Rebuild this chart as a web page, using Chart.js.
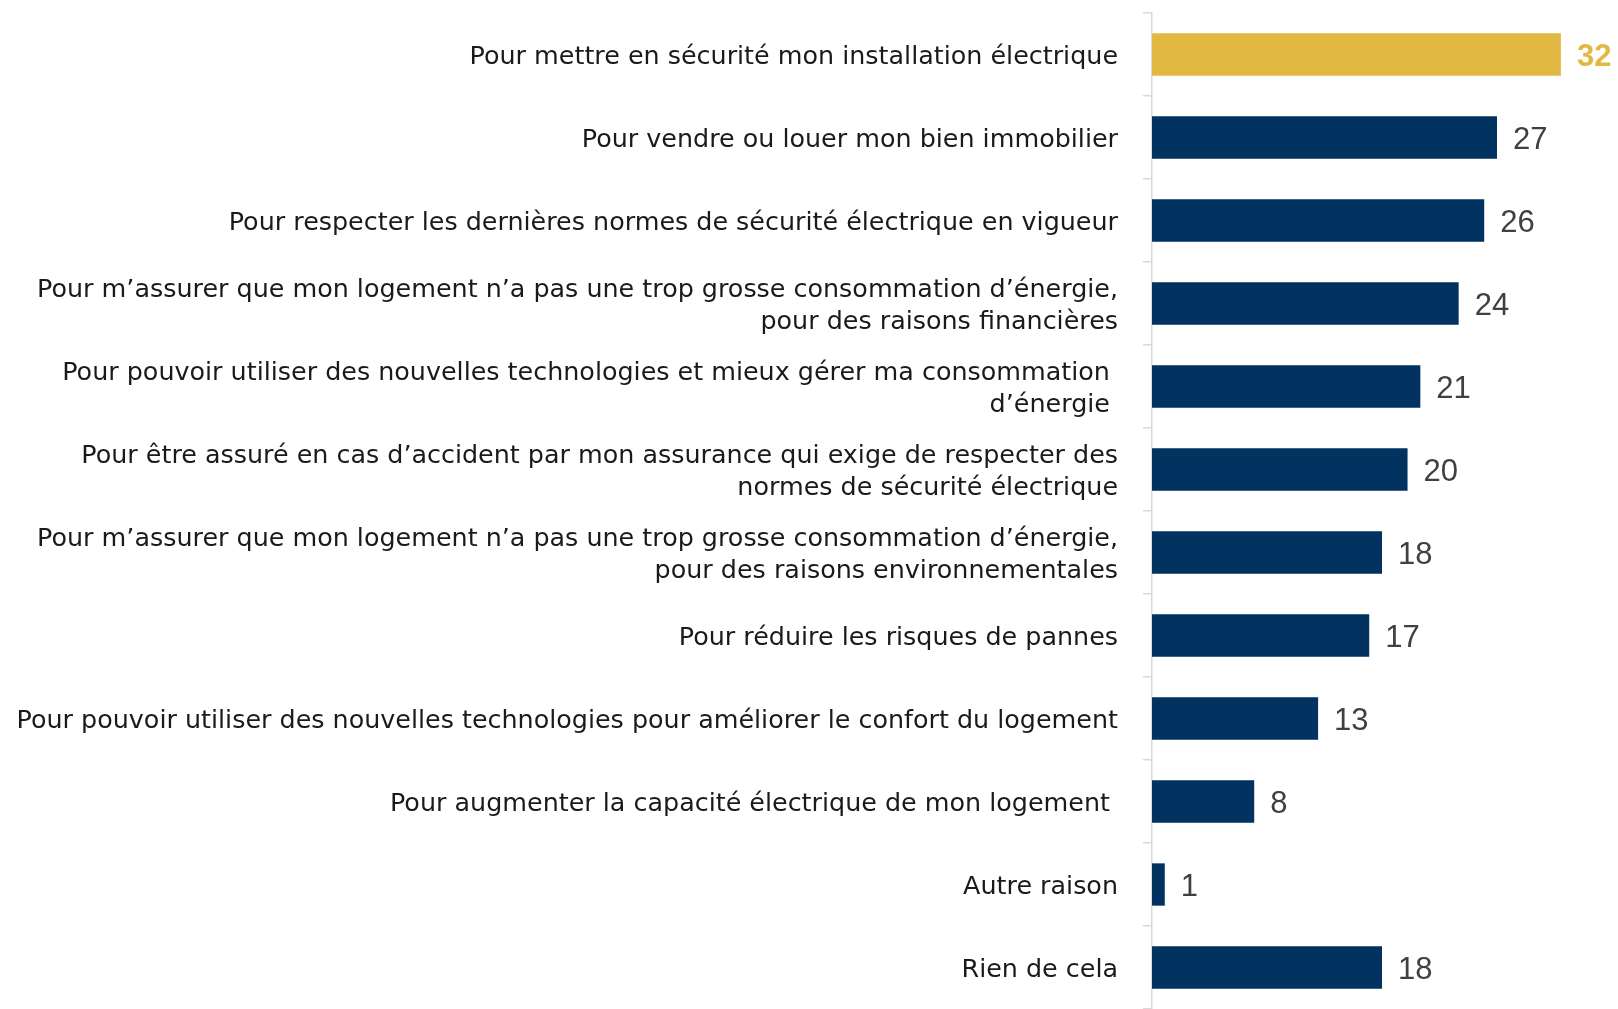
<!DOCTYPE html>
<html>
<head>
<meta charset="utf-8">
<script src="https://cdn.jsdelivr.net/npm/chart.js@4"></script>
<style>
  body { margin: 0; background: #fff; }
  #wrap { width: 1618px; height: 1009px; }
</style>
</head>
<body>
<div id="wrap"><canvas id="chart"></canvas></div>
<script>
const categories = [
    'Pour mettre en sécurité mon installation électrique',
    'Pour vendre ou louer mon bien immobilier',
    'Pour respecter les dernières normes de sécurité électrique en vigueur',
    ['Pour m’assurer que mon logement n’a pas une trop grosse consommation d’énergie,', 'pour des raisons financières'],
    ['Pour pouvoir utiliser des nouvelles technologies et mieux gérer ma consommation ', 'd’énergie '],
    ['Pour être assuré en cas d’accident par mon assurance qui exige de respecter des', 'normes de sécurité électrique'],
    ['Pour m’assurer que mon logement n’a pas une trop grosse consommation d’énergie,', 'pour des raisons environnementales'],
    'Pour réduire les risques de pannes',
    'Pour pouvoir utiliser des nouvelles technologies pour améliorer le confort du logement',
    'Pour augmenter la capacité électrique de mon logement ',
    'Autre raison',
    'Rien de cela'
];
const values = [32, 27, 26, 24, 21, 20, 18, 17, 13, 8, 1, 18];

const navy = '#02325F';
const gold = '#E1B842';
const barColors = values.map((v, i) => i === 0 ? gold : navy);

// value labels drawn next to each bar
const valueLabels = {
    id: 'valueLabels',
    afterDatasetsDraw(chart) {
        const ctx = chart.ctx;
        const meta = chart.getDatasetMeta(0);
        ctx.save();
        ctx.textBaseline = 'middle';
        ctx.textAlign = 'left';
        meta.data.forEach((bar, i) => {
            if (i === 0) {
                ctx.font = 'bold 31px "Liberation Sans", sans-serif';
                ctx.fillStyle = gold;
            } else {
                ctx.font = '31px "Liberation Sans", sans-serif';
                ctx.fillStyle = '#404040';
            }
            ctx.fillText(String(values[i]), bar.x + 16, bar.y + 3);
        });
        ctx.restore();
    }
};

new Chart(document.getElementById('chart'), {
    type: 'bar',
    data: {
        labels: categories,
        datasets: [{
            data: values,
            backgroundColor: barColors,
            categoryPercentage: 1,
            barPercentage: 0.51
        }]
    },
    options: {
        indexAxis: 'y',
        responsive: true,
        maintainAspectRatio: false,
        animation: false,
        layout: { padding: { top: 13, right: 6, bottom: 0, left: 0 } },
        plugins: {
            legend: { display: false },
            tooltip: { enabled: false }
        },
        scales: {
            x: { display: false, min: 0, max: 36 },
            y: {
                afterFit(scale) {
                    scale.width = 1152;
                    scale.paddingTop = 0;
                    scale.paddingBottom = 0;
                },
                border: { color: '#D9D9D9', width: 1.5 },
                grid: { drawOnChartArea: false, color: '#D9D9D9', lineWidth: 1.5, tickLength: 9 },
                ticks: {
                    autoSkip: false,
                    padding: 25,
                    labelOffset: 3,
                    color: '#1A1A1A',
                    font: { family: '"DejaVu Sans", sans-serif', size: 25.4, lineHeight: 1.29 }
                }
            }
        }
    },
    plugins: [valueLabels]
});
</script>
</body>
</html>
